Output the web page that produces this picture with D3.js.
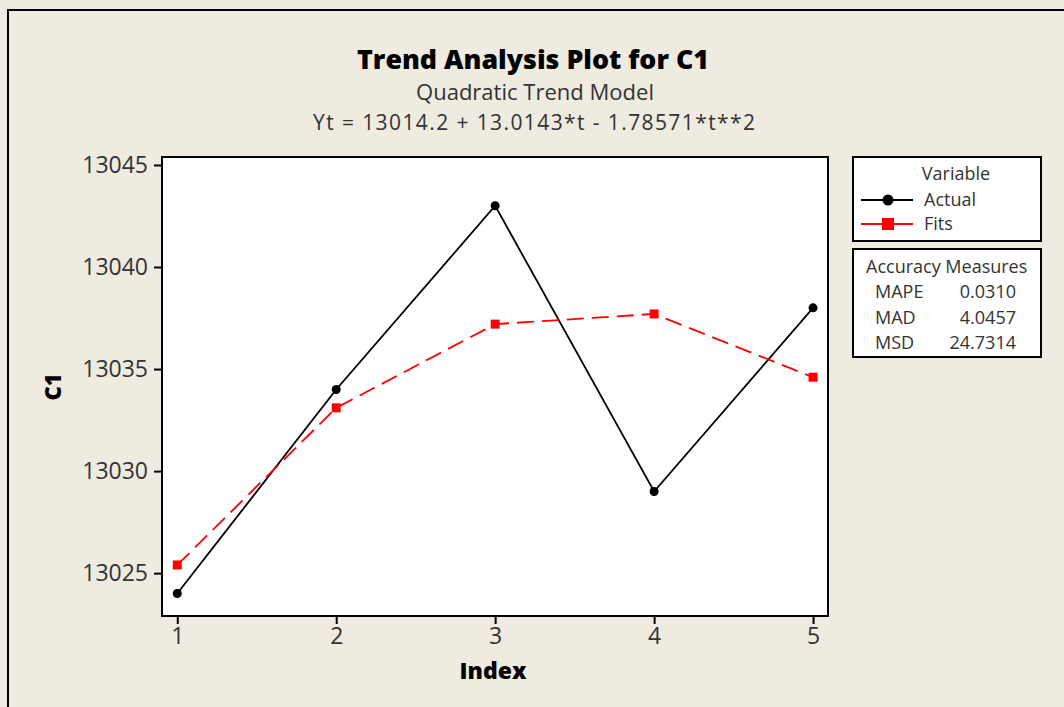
<!DOCTYPE html>
<html>
<head>
<meta charset="utf-8">
<script src="https://cdn.jsdelivr.net/npm/d3@7"></script>
<style>
  body { margin: 0; background: #efebe0; }
  svg { display: block; }
  .tick-lab { font-family: "Open Sans", sans-serif; fill: #333; }
</style>
</head>
<body>
<div id="chart"></div>
<script>
// Data
const index = [1, 2, 3, 4, 5];
const actual = [13024, 13034, 13043, 13029, 13038];
const fits = [13025.4, 13033.1, 13037.2, 13037.7, 13034.6];
const yTicks = [13025, 13030, 13035, 13040, 13045];
const accuracyNames = ["MAPE", "MAD", "MSD"];
const accuracyValues = ["0.0310", "4.0457", "24.7314"];

const width = 1064;
const height = 707;

const plot = { left: 162, top: 157, right: 828, bottom: 616 };

const svg = d3.select("#chart")
    .append("svg")
    .attr("width", width)
    .attr("height", height);

// background + outer frame
svg.append("rect")
    .attr("width", width).attr("height", height)
    .attr("fill", "#efebe0");
svg.append("rect")
    .attr("x", 8).attr("y", 10)
    .attr("width", width + 20).attr("height", height + 20)
    .attr("fill", "none").attr("stroke", "#000").attr("stroke-width", 2);

const x = d3.scaleLinear()
    .domain([0.904, 5.094])
    .range([plot.left, plot.right]);
const y = d3.scaleLinear()
    .domain([13022.9, 13045.39])
    .range([plot.bottom, plot.top]);

// plot area
svg.append("rect")
    .attr("x", plot.left).attr("y", plot.top)
    .attr("width", plot.right - plot.left)
    .attr("height", plot.bottom - plot.top)
    .attr("fill", "#fff").attr("stroke", "#000").attr("stroke-width", 2);

// axes
const xAxis = svg.append("g")
    .attr("transform", `translate(0,${plot.bottom})`)
    .call(d3.axisBottom(x).tickValues(index).tickSize(8).tickPadding(4).tickFormat(d3.format("d")));
const yAxis = svg.append("g")
    .attr("transform", `translate(${plot.left},0)`)
    .call(d3.axisLeft(y).tickValues(yTicks).tickSize(8).tickPadding(6).tickFormat(d3.format("d")));

[xAxis, yAxis].forEach(g => {
    g.select(".domain").remove();
    g.selectAll(".tick line").attr("stroke", "#000").attr("stroke-width", 2);
    g.selectAll(".tick text")
        .attr("class", "tick-lab")
        .style("font-size", "23px");
});

// titles
const title = svg.append("g").attr("text-anchor", "middle");
title.append("text")
    .attr("x", 533).attr("y", 69)
    .style("font-family", "'Open Sans', sans-serif")
    .style("font-weight", "800")
    .style("font-size", "26px")
    .attr("fill", "#000")
    .attr("textLength", 352).attr("lengthAdjust", "spacingAndGlyphs")
    .text("Trend Analysis Plot for C1");
title.append("text")
    .attr("x", 535).attr("y", 100)
    .attr("class", "tick-lab")
    .style("font-size", "21px")
    .attr("textLength", 238).attr("lengthAdjust", "spacingAndGlyphs")
    .text("Quadratic Trend Model");
title.append("text")
    .attr("x", 534).attr("y", 130)
    .attr("class", "tick-lab")
    .style("font-size", "21px")
    .attr("textLength", 442).attr("lengthAdjust", "spacing")
    .text("Yt = 13014.2 + 13.0143*t - 1.78571*t**2");

svg.append("text")
    .attr("x", 493).attr("y", 679)
    .attr("text-anchor", "middle")
    .style("font-family", "'Open Sans', sans-serif")
    .style("font-weight", "800")
    .style("font-size", "23px")
    .text("Index");
svg.append("text")
    .attr("transform", "translate(61,387) rotate(-90)")
    .attr("text-anchor", "middle")
    .style("font-family", "'Open Sans', sans-serif")
    .style("font-weight", "800")
    .style("font-size", "22px")
    .text("C1");

// series
const line = (vals) => d3.line()
    .x((d, i) => x(index[i]))
    .y(d => y(d))(vals);

svg.append("path")
    .attr("d", line(actual))
    .attr("fill", "none").attr("stroke", "#000").attr("stroke-width", 1.8);
svg.append("path")
    .attr("d", line(fits))
    .attr("fill", "none").attr("stroke", "#f00").attr("stroke-width", 1.8)
    .attr("stroke-dasharray", "17,8");

svg.selectAll(".pt-actual")
    .data(actual).join("circle")
    .attr("cx", (d, i) => x(index[i]))
    .attr("cy", d => y(d))
    .attr("r", 4.5)
    .attr("fill", "#000");
svg.selectAll(".pt-fit")
    .data(fits).join("rect")
    .attr("x", (d, i) => x(index[i]) - 4.5)
    .attr("y", d => y(d) - 4.5)
    .attr("width", 9).attr("height", 9)
    .attr("fill", "#f00");

// legend
const lg = svg.append("g");
lg.append("rect")
    .attr("x", 853).attr("y", 157).attr("width", 188).attr("height", 84)
    .attr("fill", "#fff").attr("stroke", "#000").attr("stroke-width", 2);
lg.append("text")
    .attr("x", 956).attr("y", 180).attr("text-anchor", "middle")
    .attr("class", "tick-lab").style("font-size", "18px")
    .text("Variable");
const legendItems = [
    { name: "Actual", color: "#000", y: 200 },
    { name: "Fits", color: "#f00", y: 224 }
];
legendItems.forEach(item => {
    lg.append("line")
        .attr("x1", 861).attr("x2", 913)
        .attr("y1", item.y).attr("y2", item.y)
        .attr("stroke", item.color).attr("stroke-width", 1.8);
    if (item.name === "Actual") {
        lg.append("circle").attr("cx", 888).attr("cy", item.y).attr("r", 5.5).attr("fill", item.color);
    } else {
        lg.append("rect").attr("x", 882).attr("y", item.y - 6).attr("width", 12).attr("height", 12).attr("fill", item.color);
    }
    lg.append("text")
        .attr("x", 924).attr("y", item.y + 6)
        .attr("class", "tick-lab").style("font-size", "18px")
        .text(item.name);
});

lg.append("rect")
    .attr("x", 853).attr("y", 249).attr("width", 188).attr("height", 108)
    .attr("fill", "#fff").attr("stroke", "#000").attr("stroke-width", 2);
lg.append("text")
    .attr("x", 866).attr("y", 273)
    .attr("class", "tick-lab").style("font-size", "18px")
    .text("Accuracy Measures");
accuracyNames.forEach((name, i) => {
    lg.append("text")
        .attr("x", 875).attr("y", 298 + i * 25.5)
        .attr("class", "tick-lab").style("font-size", "18px")
        .text(name);
    lg.append("text")
        .attr("x", 1016).attr("y", 298 + i * 25.5)
        .attr("text-anchor", "end")
        .attr("class", "tick-lab").style("font-size", "18px")
        .text(accuracyValues[i]);
});
</script>
</body>
</html>
